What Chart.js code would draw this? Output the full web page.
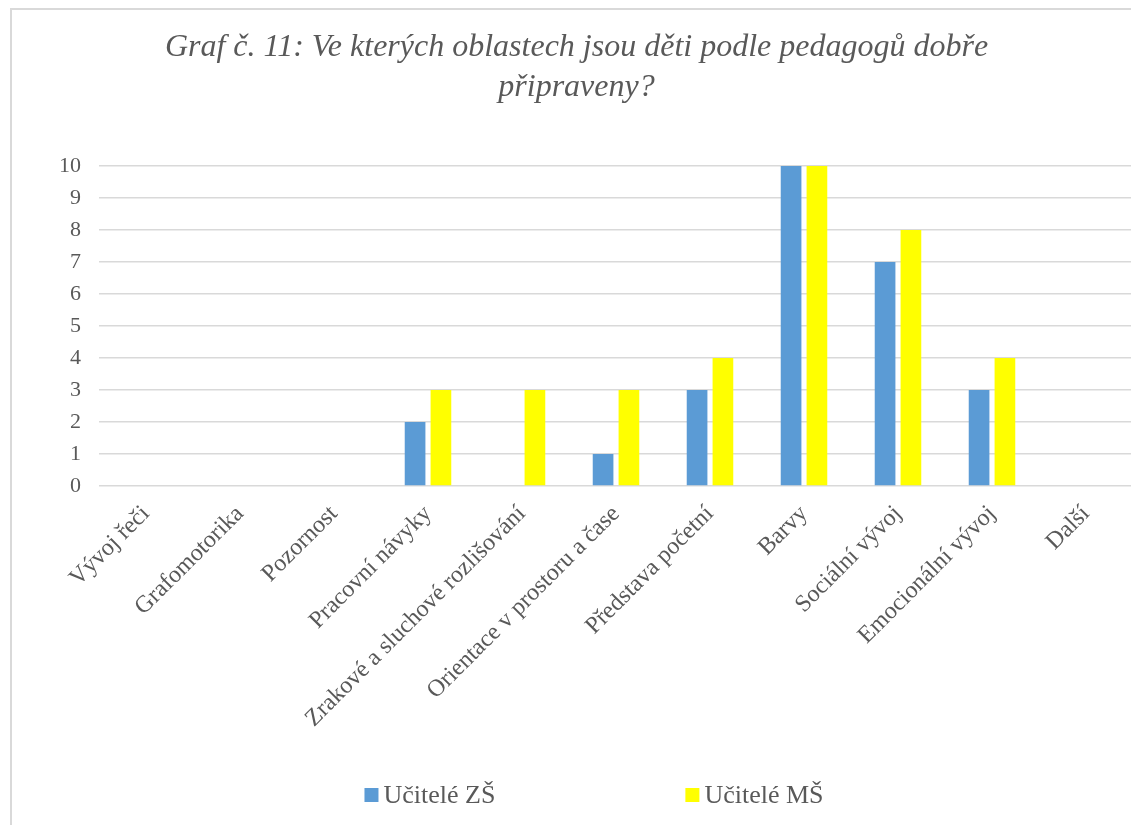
<!DOCTYPE html>
<html lang="cs">
<head>
<meta charset="utf-8">
<title>Graf č. 11</title>
<script src="https://cdn.jsdelivr.net/npm/chart.js@4/dist/chart.umd.min.js"></script>
<style>
  html, body { margin: 0; padding: 0; background: #fff; overflow: hidden; }
  .frame {
    position: absolute; left: 10px; top: 8px;
    width: 1200px; height: 900px;
    border: 2px solid #d9d9d9;
  }
  .wrap { position: absolute; left: 0; top: 0; width: 1152px; height: 825px; }
</style>
</head>
<body>
<div class="frame"></div>
<div class="wrap"><canvas id="chart"></canvas></div>
<script>
const categories = [
  'Vývoj řeči',
  'Grafomotorika',
  'Pozornost',
  'Pracovní návyky',
  'Zrakové a sluchové rozlišování',
  'Orientace v prostoru a čase',
  'Představa početní',
  'Barvy',
  'Sociální vývoj',
  'Emocionální vývoj',
  'Další'
]
const ucitelZS = [0, 0, 0, 2, 0, 1, 3, 10, 7, 3, 0]
const ucitelMS = [0, 0, 0, 3, 3, 3, 4, 10, 8, 4, 0]
const titleLines = ['Graf č. 11: Ve kterých oblastech jsou děti podle pedagogů dobře', 'připraveny?']

const textColor = '#595959'
const serif = '"Liberation Serif", "Times New Roman", serif'

// legend drawn by hand so the two entries can sit far apart
const bottomLegend = {
  id: 'bottomLegend',
  afterDraw(chart, args, opts) {
    const ctx = chart.ctx
    const sets = chart.data.datasets
    ctx.save()
    ctx.font = opts.size + 'px ' + serif
    ctx.textBaseline = 'middle'
    const widths = sets.map(ds => opts.box + opts.boxGap + ctx.measureText(ds.label).width)
    const total = widths.reduce((a, b) => a + b, 0) + opts.gap * (sets.length - 1)
    let x = opts.center - total / 2
    sets.forEach((ds, i) => {
      ctx.fillStyle = ds.backgroundColor
      ctx.fillRect(x, opts.y - opts.box / 2, opts.box, opts.box)
      ctx.fillStyle = textColor
      ctx.fillText(ds.label, x + opts.box + opts.boxGap, opts.y + 1)
      x += widths[i] + opts.gap
    })
    ctx.restore()
  }
}

new Chart(document.getElementById('chart'), {
  type: 'bar',
  data: {
    labels: categories,
    datasets: [
      {
        label: 'Učitelé ZŠ',
        data: ucitelZS,
        backgroundColor: '#5b9bd5',
        categoryPercentage: 0.55,
        barPercentage: 0.8
      },
      {
        label: 'Učitelé MŠ',
        data: ucitelMS,
        backgroundColor: '#ffff00',
        categoryPercentage: 0.55,
        barPercentage: 0.8
      }
    ]
  },
  options: {
    responsive: true,
    maintainAspectRatio: false,
    animation: false,
    layout: {
      padding: { left: 20, right: 19, top: 0, bottom: 0 }
    },
    plugins: {
      legend: { display: false },
      tooltip: { enabled: false },
      title: {
        display: true,
        text: titleLines,
        color: textColor,
        font: { family: serif, size: 32, style: 'italic', weight: 'normal', lineHeight: 40 / 32 },
        padding: { top: 28, bottom: 58 }
      },
      bottomLegend: {
        center: 594,
        y: 795,
        size: 26,
        box: 14,
        boxGap: 5,
        gap: 190
      }
    },
    scales: {
      y: {
        min: 0,
        max: 10,
        border: { display: false },
        grid: { color: '#d9d9d9', lineWidth: 1.5, drawTicks: false },
        ticks: {
          stepSize: 1,
          padding: 18,
          color: textColor,
          font: { family: serif, size: 22 }
        },
        afterFit(scale) { scale.width = 79 }
      },
      x: {
        border: { display: false },
        grid: { display: false, drawTicks: false },
        ticks: {
          autoSkip: false,
          minRotation: 45,
          maxRotation: 45,
          padding: 14,
          color: textColor,
          font: { family: serif, size: 24 }
        },
        afterFit(scale) { scale.height = 339 }
      }
    }
  },
  plugins: [bottomLegend]
})
</script>
</body>
</html>
